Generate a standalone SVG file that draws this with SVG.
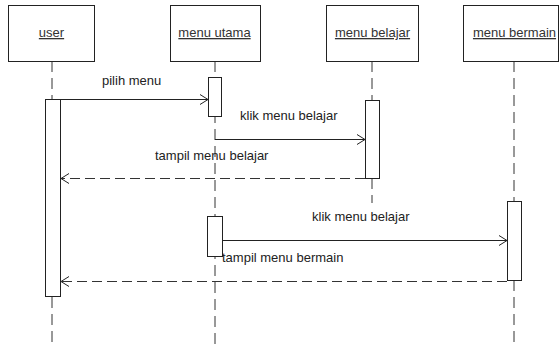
<svg xmlns="http://www.w3.org/2000/svg" width="560" height="344" viewBox="0 0 560 344">
<style>
  .box{fill:#fff;stroke:#222;stroke-width:1}
  .act{fill:#fff;stroke:#222;stroke-width:1}
  .life{stroke:#333;stroke-width:1;stroke-dasharray:11 6;fill:none}
  .msg{stroke:#222;stroke-width:1;fill:none}
  .ret{stroke:#333;stroke-width:1;stroke-dasharray:10 5;fill:none}
  .t{font-family:"Liberation Sans",Arial,sans-serif;font-size:13px;fill:#222}
  .h{font-family:"Liberation Sans",Arial,sans-serif;font-size:13px;fill:#333;text-anchor:middle;text-decoration:underline}
</style>
<defs>
  <marker id="open" markerWidth="10" markerHeight="12" refX="9" refY="6" orient="auto" markerUnits="userSpaceOnUse">
    <path d="M1,1 L9,6 L1,11" fill="none" stroke="#222" stroke-width="1"/>
  </marker>
</defs>
<g id="lifelines">
  <line class="life" x1="52" y1="61" x2="52" y2="99"/>
  <line class="life" x1="52" y1="297" x2="52" y2="344"/>
  <line class="life" x1="215" y1="61" x2="215" y2="344"/>
  <line class="life" x1="372" y1="61" x2="372" y2="100"/>
  <line class="life" x1="372" y1="178" x2="372" y2="203"/>
  <line class="life" x1="514" y1="61" x2="514" y2="201"/>
  <line class="life" x1="514" y1="280" x2="514" y2="344"/>
</g>
<g id="user">
  <rect class="box" x="8.5" y="5.5" width="86" height="56"/>
  <text class="h" x="51.5" y="37">user</text>
  <rect class="act" x="45.5" y="99.5" width="15" height="197"/>
</g>
<g id="menu-utama">
  <rect class="box" x="170.5" y="5.5" width="90" height="56"/>
  <text class="h" x="214.5" y="37">menu utama</text>
  <rect class="act" x="208.5" y="77.5" width="13" height="39"/>
  <rect class="act" x="207.5" y="216.5" width="15" height="40"/>
</g>
<g id="menu-belajar">
  <rect class="box" x="326.5" y="5.5" width="92" height="56"/>
  <text class="h" x="372.5" y="37">menu belajar</text>
  <rect class="act" x="365.5" y="100.5" width="14" height="78"/>
</g>
<g id="menu-bermain">
  <rect class="box" x="463.5" y="5.5" width="95" height="56"/>
  <text class="h" x="514.5" y="37">menu bermain</text>
  <rect class="act" x="507.5" y="201.5" width="14" height="79"/>
</g>
<g id="connectors">
  <line class="msg" x1="60" y1="99.5" x2="208" y2="99.5" marker-end="url(#open)"/>
  <line class="msg" x1="215" y1="139.5" x2="365" y2="139.5" marker-end="url(#open)"/>
  <line class="ret" x1="365" y1="178.5" x2="61" y2="178.5" marker-end="url(#open)"/>
  <line class="msg" x1="222" y1="240.5" x2="507" y2="240.5" marker-end="url(#open)"/>
  <line class="ret" x1="507" y1="281.5" x2="61" y2="281.5" marker-end="url(#open)"/>
</g>
<g id="labels">
  <text class="t" x="102" y="85">pilih menu</text>
  <text class="t" x="240" y="120">klik menu belajar</text>
  <text class="t" x="155" y="159.5">tampil menu belajar</text>
  <text class="t" x="312" y="221">klik menu belajar</text>
  <text class="t" x="222" y="262">tampil menu bermain</text>
</g>
</svg>
